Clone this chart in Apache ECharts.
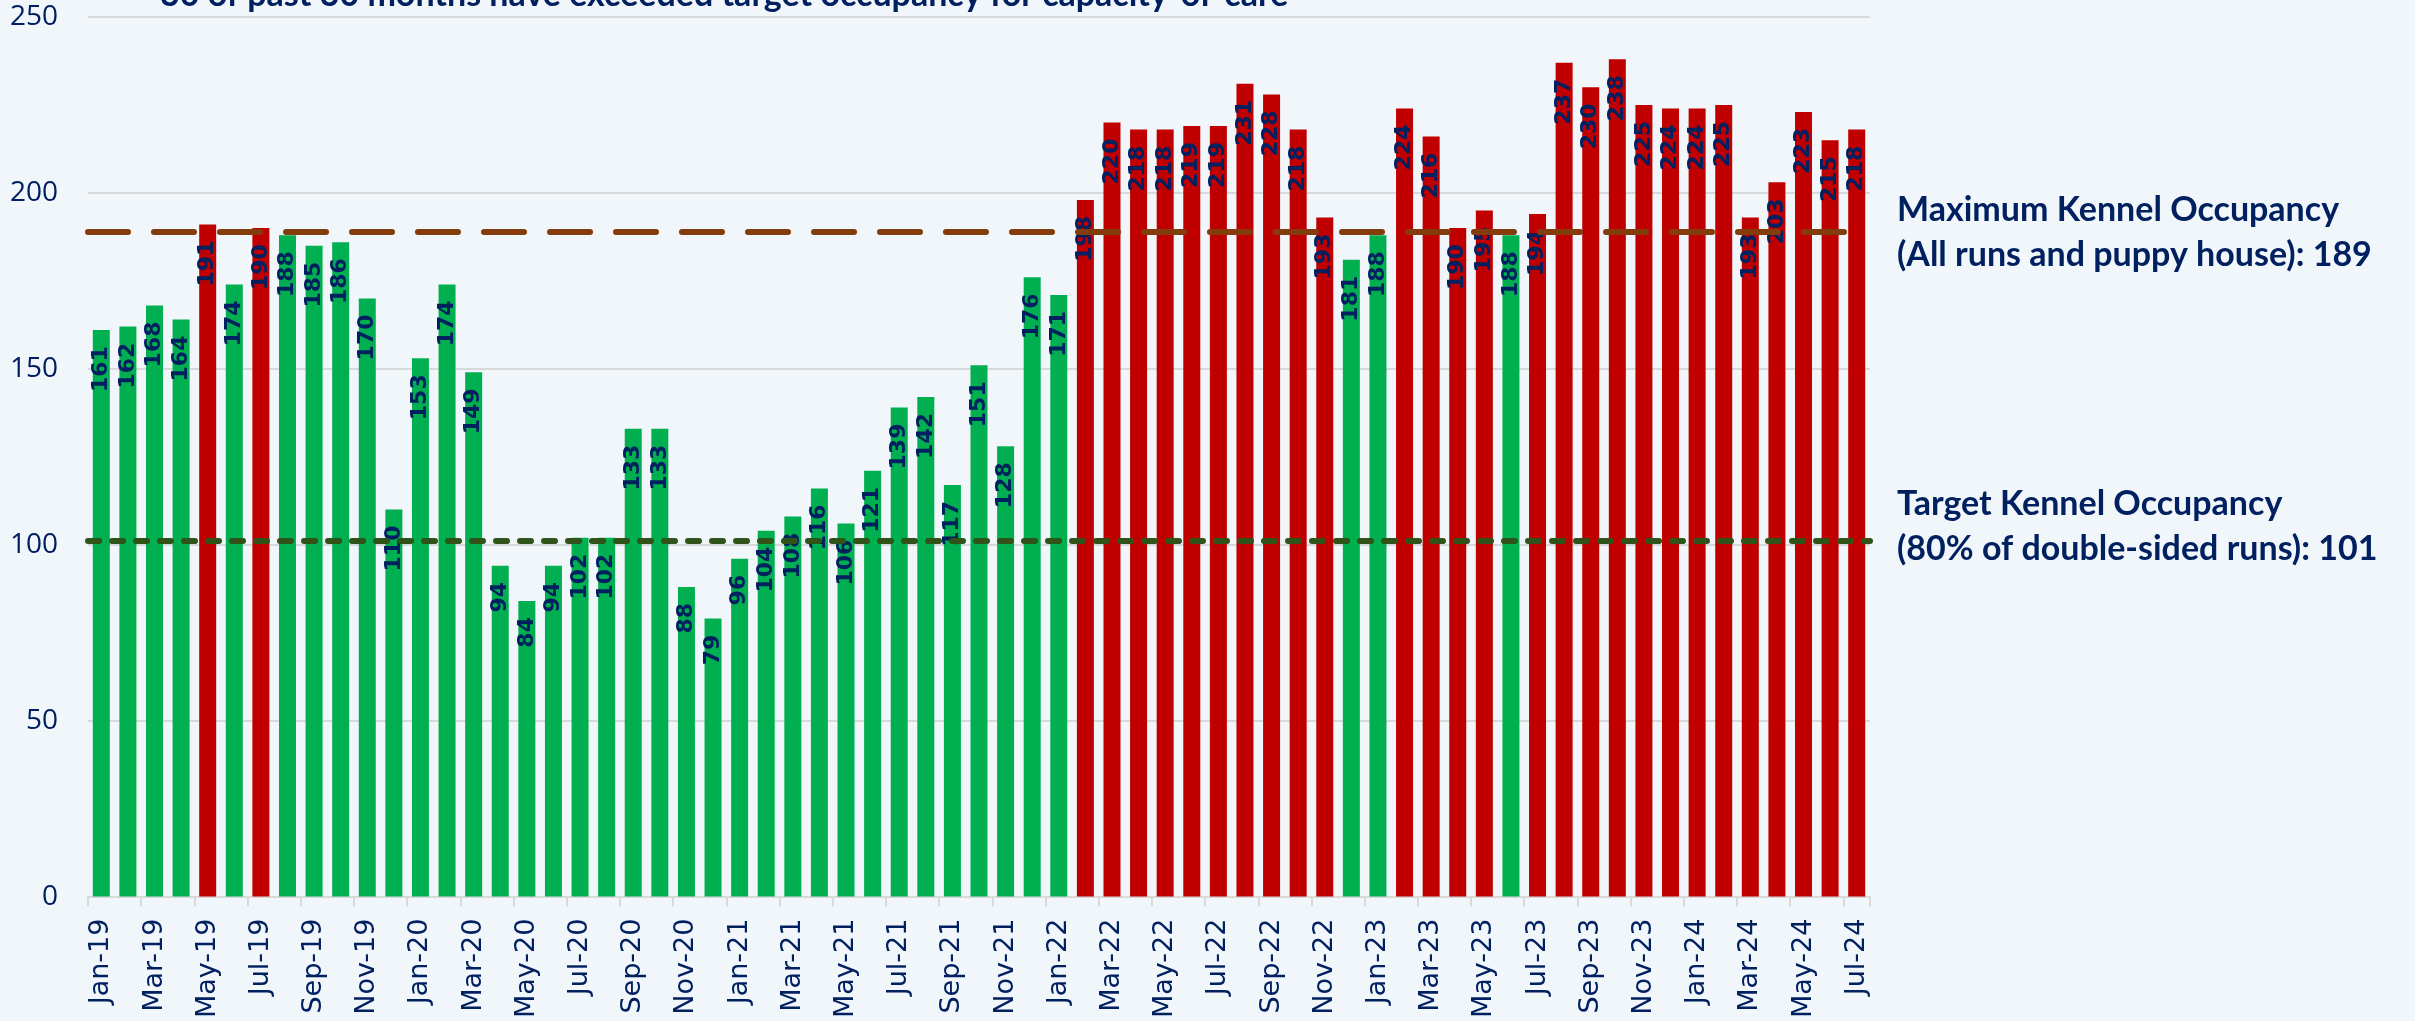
<!DOCTYPE html>
<html>
<head>
<meta charset="utf-8">
<script src="https://cdn.jsdelivr.net/npm/echarts@6/dist/echarts.min.js"></script>
<style>
html,body{margin:0;padding:0;background:#F1F6FB;}
#chart{width:2415px;height:1021px;}
</style>
</head>
<body>
<div id="chart"></div>
<script>
const months = ['Jan-19','Feb-19','Mar-19','Apr-19','May-19','Jun-19','Jul-19','Aug-19','Sep-19','Oct-19','Nov-19','Dec-19',
'Jan-20','Feb-20','Mar-20','Apr-20','May-20','Jun-20','Jul-20','Aug-20','Sep-20','Oct-20','Nov-20','Dec-20',
'Jan-21','Feb-21','Mar-21','Apr-21','May-21','Jun-21','Jul-21','Aug-21','Sep-21','Oct-21','Nov-21','Dec-21',
'Jan-22','Feb-22','Mar-22','Apr-22','May-22','Jun-22','Jul-22','Aug-22','Sep-22','Oct-22','Nov-22','Dec-22',
'Jan-23','Feb-23','Mar-23','Apr-23','May-23','Jun-23','Jul-23','Aug-23','Sep-23','Oct-23','Nov-23','Dec-23',
'Jan-24','Feb-24','Mar-24','Apr-24','May-24','Jun-24','Jul-24'];
const occupancy = [161,162,168,164,191,174,190,188,185,186,170,110,
153,174,149,94,84,94,102,102,133,133,88,79,
96,104,108,116,106,121,139,142,117,151,128,176,
171,198,220,218,218,219,219,231,228,218,193,181,
188,224,216,190,195,188,194,237,230,238,225,224,
224,225,193,203,223,215,218];
const maxOccupancy = 189;
const targetOccupancy = 101;
const yTicks = [0, 50, 100, 150, 200, 250];
const titleText = '30 of past 30 months have exceeded target occupancy for capacity-of-care';
const maxNote = ['Maximum Kennel Occupancy', '(All runs and puppy house): 189'];
const targetNote = ['Target Kennel Occupancy', '(80% of double-sided runs): 101'];

const NAVY = '#002060';
const chart = echarts.init(document.getElementById('chart'));
const noteFont = 'bold 34px Lato, "Open Sans", sans-serif';

const option = {
  backgroundColor: '#F1F6FB',
  animation: false,
  grid: {left: 88, right: 545, top: 17, bottom: 124, containLabel: false},
  xAxis: {
    type: 'category',
    data: months,
    boundaryGap: true,
    axisLine: {show: true, lineStyle: {color: '#D9D9D9', width: 2}},
    axisTick: {show: true, interval: 1, length: 10, lineStyle: {color: '#D9D9D9', width: 2}},
    axisLabel: {interval: 1, rotate: 90, margin: 22, color: NAVY, fontSize: 27, fontFamily: '"DejaVu Sans", sans-serif'}
  },
  yAxis: {
    type: 'value',
    min: yTicks[0], max: yTicks[yTicks.length - 1], interval: 50,
    axisLine: {show: false},
    axisTick: {show: false},
    splitLine: {show: true, lineStyle: {color: '#D9D9D9', width: 2}},
    axisLabel: {margin: 30, color: NAVY, fontSize: 28, fontFamily: '"Open Sans", sans-serif'}
  },
  series: [{
    type: 'bar',
    barWidth: 17,
    data: occupancy.map(v => ({value: v, itemStyle: {color: v > maxOccupancy ? '#C00000' : '#00B050'}})),
    label: {
      show: true,
      position: 'insideTop',
      rotate: 90,
      distance: 16,
      align: 'right',
      verticalAlign: 'middle',
      color: NAVY,
      fontSize: 22,
      fontWeight: 'bold',
      fontFamily: '"DejaVu Sans", sans-serif'
    },
    markLine: {
      silent: true,
      symbol: ['none', 'none'],
      label: {show: false},
      data: [
        {yAxis: maxOccupancy, lineStyle: {color: '#843C0C', width: 6, type: [40, 26], cap: 'round'}},
        {yAxis: targetOccupancy, lineStyle: {color: '#2F5318', width: 6, type: [11, 13], cap: 'round'}}
      ]
    }
  }],
  graphic: [
    {type: 'text', left: 160, top: -22, style: {text: titleText, font: noteFont, fill: NAVY}},
    {type: 'text', left: 1897, top: 188, style: {text: maxNote.join('\n'), font: noteFont, fill: NAVY, lineHeight: 45}},
    {type: 'text', left: 1897, top: 482, style: {text: targetNote.join('\n'), font: noteFont, fill: NAVY, lineHeight: 45}}
  ]
};
chart.setOption(option);
</script>
</body>
</html>
